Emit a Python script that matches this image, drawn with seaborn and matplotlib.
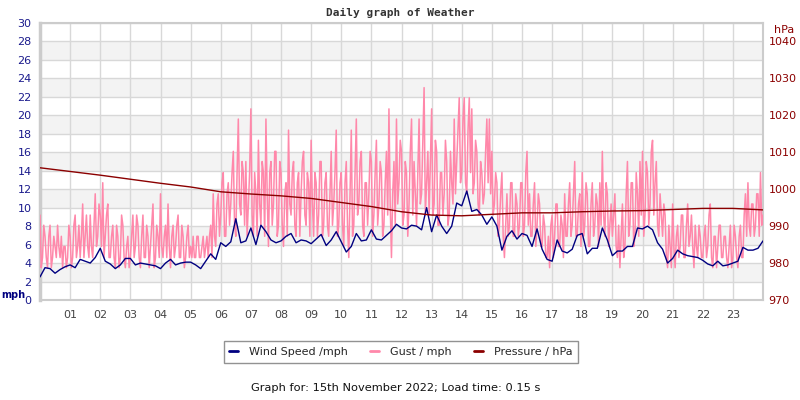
import numpy as np
import pandas as pd
import matplotlib
matplotlib.use("Agg")
import matplotlib.pyplot as plt
from matplotlib.lines import Line2D
import seaborn as sns

# ---------------- data ----------------
hour_labels = ["%02d" % h for h in range(1, 24)]

# wind speed (mph), one reading every 10 minutes, 00:00 .. 24:00
wind_mph = [
    2.5, 3.5, 3.4, 2.9, 3.3, 3.6,
    3.8, 3.5, 4.4, 4.2, 4.0, 4.6,
    5.6, 4.2, 3.9, 3.4, 3.8, 4.5,
    4.5, 3.8, 4.0, 3.9, 3.8, 3.7,
    3.4, 4.0, 4.4, 3.8, 4.0, 4.1,
    4.1, 3.8, 3.4, 4.2, 5.0, 4.4,
    6.2, 5.8, 6.3, 8.8, 6.2, 6.4,
    7.8, 6.0, 8.1, 7.4, 6.5, 6.2,
    6.4, 6.9, 7.2, 6.2, 6.5, 6.4,
    6.1, 6.6, 7.1, 5.9, 6.5, 7.4,
    6.3, 5.2, 5.8, 7.2, 6.4, 6.5,
    7.6, 6.6, 6.5, 7.0, 7.5, 8.2,
    7.8, 7.7, 8.1, 8.0, 7.6, 10.0,
    7.4, 9.2, 8.0, 7.2, 8.0, 10.5,
    10.2, 11.8, 9.6, 9.8, 9.2, 8.2,
    9.0, 8.0, 5.4, 6.9, 7.5, 6.6,
    7.2, 7.0, 5.8, 7.7, 5.5, 4.4,
    4.2, 6.5, 5.3, 5.1, 5.5, 7.0,
    7.2, 5.0, 5.6, 5.6, 7.8, 6.5,
    4.8, 5.3, 5.3, 5.8, 5.8, 7.8,
    7.7, 8.0, 7.6, 6.2, 5.5, 4.0,
    4.5, 5.4, 5.0, 4.8, 4.7, 4.6,
    4.3, 3.9, 3.7, 4.2, 3.7, 3.8,
    4.0, 4.2, 5.7, 5.4, 5.4, 5.6,
    6.4,
]

# gust (mph), one reading every 2.5 minutes, 00:00 .. 24:00
gust_mph = [
    9.2, 3.5, 4.6, 8.1, 6.9, 4.6, 3.5, 6.9, 8.1, 3.5, 4.6, 6.9, 5.8, 4.6, 8.1, 5.8, 4.6, 6.9, 3.5, 5.8, 5.8, 3.5, 4.6, 8.1,
    6.9, 3.5, 4.6, 8.1, 9.2, 4.6, 5.8, 8.1, 4.6, 6.9, 10.4, 4.6, 6.9, 9.2, 5.8, 4.6, 9.2, 5.8, 4.6, 8.1, 11.5, 5.8, 6.9, 10.4,
    9.2, 5.8, 12.7, 4.6, 6.9, 9.2, 10.4, 4.6, 4.6, 6.9, 8.1, 4.6, 3.5, 8.1, 6.9, 3.5, 4.6, 9.2, 8.1, 4.6, 3.5, 5.8, 6.9, 3.5,
    4.6, 6.9, 9.2, 4.6, 5.8, 9.2, 8.1, 4.6, 3.5, 6.9, 9.2, 4.6, 4.6, 8.1, 6.9, 3.5, 5.8, 8.1, 10.4, 3.5, 4.6, 8.1, 6.9, 4.6,
    11.5, 5.8, 4.6, 6.9, 8.1, 4.6, 10.4, 5.8, 3.5, 6.9, 8.1, 4.6, 5.8, 8.1, 9.2, 4.6, 4.6, 8.1, 6.9, 3.5, 4.6, 6.9, 8.1, 4.6,
    5.8, 4.6, 6.9, 4.6, 4.6, 6.9, 6.9, 4.6, 4.6, 5.8, 6.9, 4.6, 5.8, 6.9, 4.6, 6.9, 8.1, 4.6, 11.5, 6.9, 5.8, 10.4, 11.5, 6.9,
    9.2, 12.7, 13.8, 6.9, 6.9, 11.5, 12.7, 8.1, 10.4, 13.8, 16.1, 8.1, 6.9, 13.8, 19.6, 10.4, 9.2, 15.0, 13.8, 8.1, 15.0, 6.9, 10.4, 13.8,
    20.7, 9.2, 6.9, 13.8, 11.5, 6.9, 17.3, 10.4, 8.1, 15.0, 13.8, 6.9, 19.6, 11.5, 5.8, 13.8, 15.0, 8.1, 10.4, 16.1, 16.1, 6.9, 8.1, 15.0,
    13.8, 8.1, 5.8, 11.5, 12.7, 6.9, 18.4, 10.4, 9.2, 13.8, 15.0, 8.1, 6.9, 12.7, 13.8, 6.9, 11.5, 15.0, 16.1, 9.2, 8.1, 13.8, 12.7, 6.9,
    17.3, 10.4, 6.9, 13.8, 12.7, 6.9, 9.2, 15.0, 15.0, 6.9, 8.1, 12.7, 13.8, 8.1, 6.9, 11.5, 16.1, 8.1, 10.4, 13.8, 18.4, 6.9, 8.1, 12.7,
    13.8, 8.1, 5.8, 12.7, 15.0, 8.1, 4.6, 11.5, 18.4, 6.9, 8.1, 13.8, 19.6, 9.2, 10.4, 15.0, 16.1, 8.1, 6.9, 12.7, 12.7, 8.1, 11.5, 16.1,
    15.0, 6.9, 9.2, 13.8, 17.3, 8.1, 10.4, 15.0, 13.8, 6.9, 8.1, 12.7, 16.1, 9.2, 20.7, 10.4, 4.6, 11.5, 15.0, 8.1, 19.6, 10.4, 12.7, 17.3,
    16.1, 8.1, 9.2, 15.0, 13.8, 6.9, 10.4, 16.1, 19.6, 9.2, 15.0, 11.5, 8.1, 13.8, 19.6, 10.4, 11.5, 17.3, 23.0, 9.2, 12.7, 16.1, 9.2, 15.0,
    20.7, 9.2, 10.4, 17.3, 16.1, 8.1, 8.1, 13.8, 13.8, 9.2, 11.5, 17.3, 15.0, 8.1, 9.2, 16.1, 12.7, 10.4, 19.6, 11.5, 15.0, 18.4, 21.9, 12.7,
    13.8, 19.6, 21.9, 12.7, 11.5, 18.4, 21.9, 13.8, 20.7, 11.5, 12.7, 17.3, 16.1, 10.4, 9.2, 15.0, 13.8, 10.4, 11.5, 16.1, 19.6, 12.7, 19.6, 11.5,
    16.1, 9.2, 10.4, 13.8, 12.7, 6.9, 8.1, 11.5, 13.8, 6.9, 4.6, 8.1, 11.5, 6.9, 8.1, 12.7, 12.7, 6.9, 6.9, 11.5, 10.4, 6.9, 8.1, 12.7,
    12.7, 6.9, 8.1, 13.8, 16.1, 8.1, 11.5, 6.9, 6.9, 10.4, 12.7, 5.8, 8.1, 11.5, 10.4, 5.8, 5.8, 9.2, 8.1, 4.6, 4.6, 6.9, 3.5, 8.1,
    9.2, 4.6, 6.9, 10.4, 10.4, 5.8, 5.8, 9.2, 8.1, 4.6, 11.5, 6.9, 6.9, 10.4, 12.7, 6.9, 8.1, 11.5, 15.0, 6.9, 6.9, 10.4, 11.5, 5.8,
    13.8, 6.9, 8.1, 12.7, 11.5, 5.8, 5.8, 10.4, 12.7, 6.9, 8.1, 11.5, 10.4, 5.8, 12.7, 8.1, 16.1, 9.2, 6.9, 12.7, 11.5, 5.8, 8.1, 10.4,
    6.9, 9.2, 11.5, 5.8, 4.6, 8.1, 3.5, 6.9, 10.4, 4.6, 5.8, 11.5, 15.0, 6.9, 8.1, 12.7, 12.7, 5.8, 6.9, 13.8, 11.5, 6.9, 15.0, 9.2,
    16.1, 6.9, 9.2, 15.0, 13.8, 8.1, 10.4, 16.1, 17.3, 9.2, 12.7, 15.0, 8.1, 6.9, 11.5, 9.2, 6.9, 10.4, 9.2, 4.6, 3.5, 8.1, 5.8, 3.5,
    10.4, 5.8, 3.5, 6.9, 8.1, 4.6, 5.8, 9.2, 9.2, 4.6, 4.6, 8.1, 10.4, 5.8, 6.9, 9.2, 5.8, 3.5, 8.1, 5.8, 4.6, 8.1, 6.9, 4.6,
    4.6, 6.9, 8.1, 4.6, 5.8, 9.2, 10.4, 4.6, 3.5, 6.9, 6.9, 3.5, 5.8, 8.1, 8.1, 4.6, 4.6, 6.9, 6.9, 4.6, 3.5, 5.8, 8.1, 3.5,
    4.6, 8.1, 6.9, 4.6, 3.5, 6.9, 8.1, 4.6, 4.6, 9.2, 11.5, 6.9, 12.7, 8.1, 6.9, 10.4, 10.4, 6.9, 8.1, 11.5, 11.5, 6.9, 13.8, 8.1,
    9.2,
]

# pressure (hPa), hourly 00:00 .. 24:00
pressure_hpa = [
    1005.8, 1004.8, 1003.8, 1002.7, 1001.6, 1000.6, 999.3, 998.7,
    998.2, 997.5, 996.4, 995.3, 993.9, 993.0, 992.8, 993.2,
    993.6, 993.6, 993.9, 994.1, 994.2, 994.5, 994.8, 994.8, 994.4,
]

wind_df = pd.DataFrame({"hour": np.linspace(0, 24, len(wind_mph)), "v": wind_mph})
gust_df = pd.DataFrame({"hour": np.linspace(0, 24, len(gust_mph)), "v": gust_mph})
pres_df = pd.DataFrame({"hour": np.linspace(0, 24, len(pressure_hpa)), "v": pressure_hpa})

# ---------------- style ----------------
sns.set_theme(style="white")
plt.rcParams["font.family"] = ["DejaVu Sans"]

WIND_C = "#000080"
GUST_C = "#ff88aa"
PRES_C = "#8b0000"
GRID_C = "#d8d8d8"

fig = plt.figure(figsize=(8, 4), dpi=100)
ax = fig.add_axes([40 / 800, 100 / 400, 723 / 800, 277 / 400])
ax.set_facecolor("white")

# alternate shaded bands
for lo in range(2, 30, 4):
    ax.axhspan(lo, lo + 2, color="#f3f3f3", zorder=0, lw=0)

sns.lineplot(data=gust_df, x="hour", y="v", ax=ax, color=GUST_C, lw=1.1, zorder=3)
sns.lineplot(data=wind_df, x="hour", y="v", ax=ax, color=WIND_C, lw=1.0, zorder=4)

ax.set_xlim(0, 24)
ax.set_ylim(0, 30)
ax.set_xticks(range(1, 24))
ax.set_xticklabels(hour_labels)
ax.set_yticks(range(0, 31, 2))
ax.tick_params(axis="x", length=0, pad=7, labelsize=8, colors="#444444")
ax.tick_params(axis="y", length=0, pad=6, labelsize=8, colors="#1a1a8c")
ax.grid(True, color=GRID_C, lw=1.0, zorder=1)
ax.set_axisbelow(True)
ax.set_xlabel("")
ax.set_ylabel("")
for s in ax.spines.values():
    s.set_color("#cccccc")
    s.set_linewidth(1.5)
ax.spines["left"].set_linewidth(2.5)

ax2 = ax.twinx()
sns.lineplot(data=pres_df, x="hour", y="v", ax=ax2, color=PRES_C, lw=1.0)
ax2.set_ylim(970, 1045)
ax2.set_yticks(range(970, 1041, 10))
ax2.tick_params(axis="y", length=0, pad=4, labelsize=8, colors=PRES_C)
ax2.set_ylabel("")
ax2.set_xlabel("")
ax2.grid(False)
for s in ax2.spines.values():
    s.set_visible(False)

fig.text(0.5, 1 - 13 / 400, "Daily graph of Weather", ha="center", va="center",
         fontsize=8, fontweight="bold", family="DejaVu Sans Mono", color="#333333")
fig.text(1 / 800, 1 - 295 / 400, "mph", ha="left", va="center",
         fontsize=7, fontweight="bold", color=WIND_C)
fig.text(784 / 800, 1 - 30 / 400, "hPa", ha="center", va="center",
         fontsize=8, color=PRES_C)

handles = [
    Line2D([], [], color=WIND_C, lw=2),
    Line2D([], [], color=GUST_C, lw=2),
    Line2D([], [], color=PRES_C, lw=2),
]
leg = fig.legend(handles, ["Wind Speed /mph", "Gust / mph", "Pressure / hPa"],
                 loc="center", bbox_to_anchor=(401 / 800, 1 - 352 / 400), ncol=3,
                 fontsize=8, frameon=True, fancybox=False, handlelength=0.8,
                 handletextpad=1.0, columnspacing=2.0, borderpad=0.5)
leg.get_frame().set_edgecolor("#777777")
leg.get_frame().set_linewidth(1.0)

fig.text(396 / 800, 1 - 388 / 400, "Graph for: 15th November 2022; Load time: 0.15 s",
         ha="center", va="center", fontsize=8.2, color="#111111")

fig.savefig("out.png", dpi=100)
